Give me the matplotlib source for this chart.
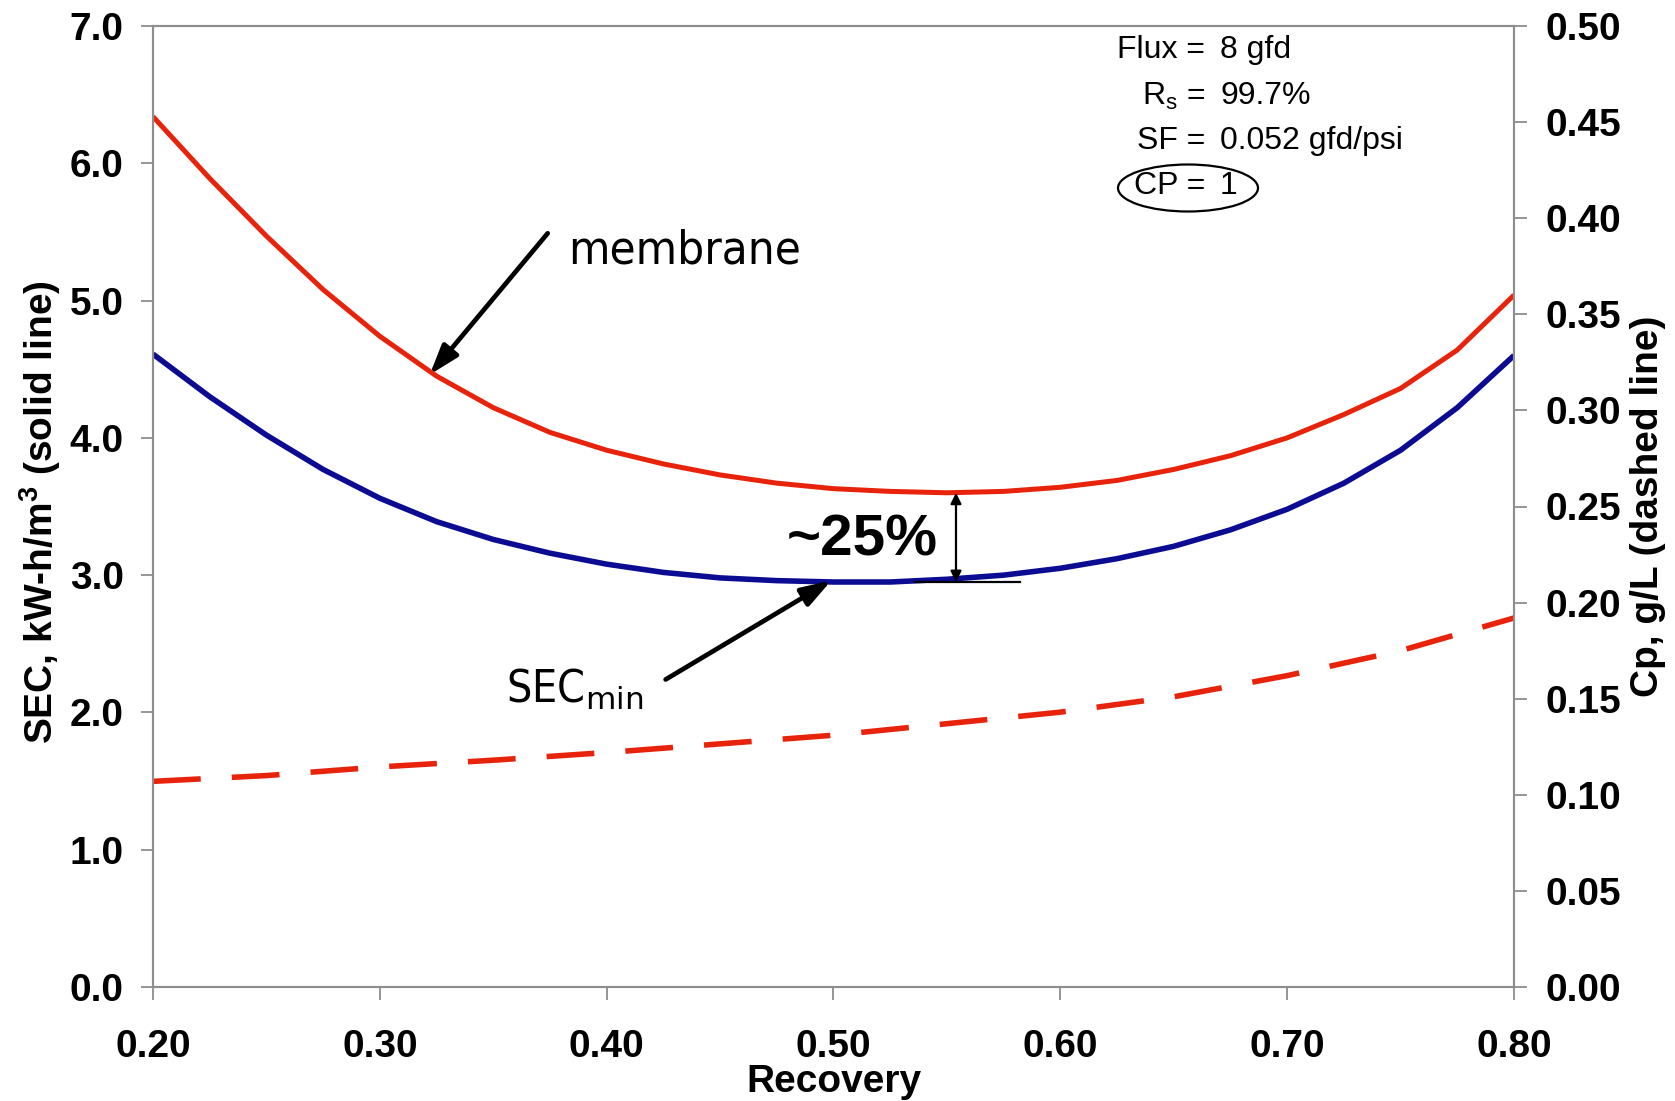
import matplotlib
matplotlib.use("Agg")
import matplotlib.pyplot as plt
from matplotlib.patches import Ellipse
from matplotlib.ticker import FixedLocator, FormatStrFormatter

plt.rcParams['font.family'] = ['Liberation Sans', 'DejaVu Sans']
plt.rcParams['mathtext.fontset'] = 'custom'
plt.rcParams['mathtext.rm'] = 'Liberation Sans'
plt.rcParams['mathtext.bf'] = 'Liberation Sans:bold'
plt.rcParams['mathtext.it'] = 'Liberation Sans:italic'
plt.rcParams['mathtext.sf'] = 'DejaVu Sans'

# Specific energy consumption, kW-h/m^3, vs recovery
recovery = [0.200, 0.225, 0.250, 0.275, 0.300, 0.325, 0.350, 0.375, 0.400,
            0.425, 0.450, 0.475, 0.500, 0.525, 0.550, 0.575, 0.600, 0.625,
            0.650, 0.675, 0.700, 0.725, 0.750, 0.775, 0.800]
sec_membrane = [6.34, 5.89, 5.47, 5.08, 4.74, 4.45, 4.22, 4.04, 3.91,
                3.81, 3.73, 3.67, 3.63, 3.61, 3.60, 3.61, 3.64, 3.69,
                3.77, 3.87, 4.00, 4.17, 4.36, 4.64, 5.04]
sec_min = [4.61, 4.30, 4.02, 3.77, 3.56, 3.39, 3.26, 3.16, 3.08,
           3.02, 2.98, 2.96, 2.95, 2.95, 2.97, 3.00, 3.05, 3.12,
           3.21, 3.33, 3.48, 3.67, 3.91, 4.22, 4.60]

# Permeate concentration, g/L
recovery_cp = [0.20, 0.25, 0.30, 0.35, 0.40, 0.45, 0.50, 0.55, 0.60,
               0.65, 0.70, 0.75, 0.80]
cp = [0.107, 0.110, 0.1145, 0.118, 0.122, 0.1265, 0.131, 0.137, 0.143,
      0.151, 0.162, 0.175, 0.192]

x_ticks = [0.20, 0.30, 0.40, 0.50, 0.60, 0.70, 0.80]
sec_ticks = [0.0, 1.0, 2.0, 3.0, 4.0, 5.0, 6.0, 7.0]
cp_ticks = [0.00, 0.05, 0.10, 0.15, 0.20, 0.25, 0.30, 0.35, 0.40, 0.45, 0.50]

gap_top = 3.60     # membrane SEC at the minimum
gap_bottom = 2.95  # SECmin at the minimum
gap_x = 0.554

W, H = 1675, 1101
fig = plt.figure(figsize=(W / 100, H / 100), dpi=100)
ax = fig.add_axes([153 / W, (H - 987) / H, 1361 / W, 961 / H])
ax2 = ax.twinx()

red = '#e8230b'
blue = '#0b0c92'
grey = '#8e8e8e'

ax.plot(recovery, sec_membrane, color=red, lw=3.6, solid_capstyle='butt')
ax.plot(recovery, sec_min, color=blue, lw=4.0, solid_capstyle='butt')
ax2.plot(recovery_cp, cp, color=red, lw=4.0, dashes=(8.6, 5.6))

ax.set_xlim(0.2, 0.8)
ax.set_ylim(0, 7)
ax2.set_ylim(0, 0.5)
ax.xaxis.set_major_locator(FixedLocator(x_ticks))
ax.yaxis.set_major_locator(FixedLocator(sec_ticks))
ax2.yaxis.set_major_locator(FixedLocator(cp_ticks))
ax.xaxis.set_major_formatter(FormatStrFormatter('%.2f'))
ax.yaxis.set_major_formatter(FormatStrFormatter('%.1f'))
ax2.yaxis.set_major_formatter(FormatStrFormatter('%.2f'))

for a in (ax, ax2):
    for s in a.spines.values():
        s.set_color(grey)
        s.set_linewidth(1.5)
    a.tick_params(axis='both', direction='out', length=9, width=1.3,
                  color=grey, labelsize=28)
    for lab in a.get_xticklabels() + a.get_yticklabels():
        lab.set_fontweight('bold')
ax.tick_params(axis='x', pad=21)
ax.tick_params(axis='y', pad=12)
ax2.tick_params(axis='y', pad=14)

fig.text(40 / W, 1 - 512 / H, r'SEC, kW-h/m$^{\mathbf{3}}$ (solid line)',
         rotation=90, ha='center', va='center', fontsize=28, fontweight='bold')
fig.text(1648 / W, 1 - 506 / H, 'Cp, g/L (dashed line)',
         rotation=90, ha='center', va='center', fontsize=28, fontweight='bold')
fig.text((153 + 1514) / 2 / W, 1 - 1082 / H, 'Recovery',
         ha='center', va='center', fontsize=28, fontweight='bold')

# Operating conditions
cond = [('Flux =', '8 gfd', 50), (r'R$_{\mathrm{s}}$ =', '99.7%', 96),
        ('SF =', '0.052 gfd/psi', 141), ('CP =', '1', 186)]
for left, right, yp in cond:
    fig.text(1205 / W, 1 - yp / H, left, ha='right', va='center', fontsize=23)
    fig.text(1220 / W, 1 - yp / H, right, ha='left', va='center', fontsize=23)
fig.patches.append(Ellipse((1188 / W, 1 - 188 / H), 140 / W, 47 / H,
                           transform=fig.transFigure, fill=False,
                           edgecolor='black', lw=1.6))

# Curve callouts
arrow_big = dict(arrowstyle='-|>,head_length=0.9,head_width=0.3', lw=3.4,
                 color='black', mutation_scale=20, shrinkA=0, shrinkB=0)
ax.annotate('', xy=(0.322, 4.46), xytext=(0.374, 5.49), arrowprops=arrow_big)
ax.text(0.383, 5.36, 'membrane', ha='left', va='center', fontsize=34,
        family='DejaVu Sans', fontstretch='condensed')
ax.annotate('', xy=(0.499, 2.96), xytext=(0.426, 2.24), arrowprops=arrow_big)
ax.text(0.3555, 2.07, r'SEC$_{\mathsf{min}}$', ha='left', va='baseline',
        fontsize=32, family='DejaVu Sans', fontstretch='condensed')

ax.annotate('', xy=(gap_x, gap_top), xytext=(gap_x, gap_bottom),
            arrowprops=dict(arrowstyle='<|-|>', lw=1.6, color='black',
                            mutation_scale=16, shrinkA=0, shrinkB=0))
ax.plot([0.536, 0.582], [gap_bottom, gap_bottom], color='black', lw=1.6)
ax.text(0.5125, 3.25, '~25%', ha='center', va='center', fontsize=42,
        fontweight='bold')

fig.savefig('out.png', dpi=100)
